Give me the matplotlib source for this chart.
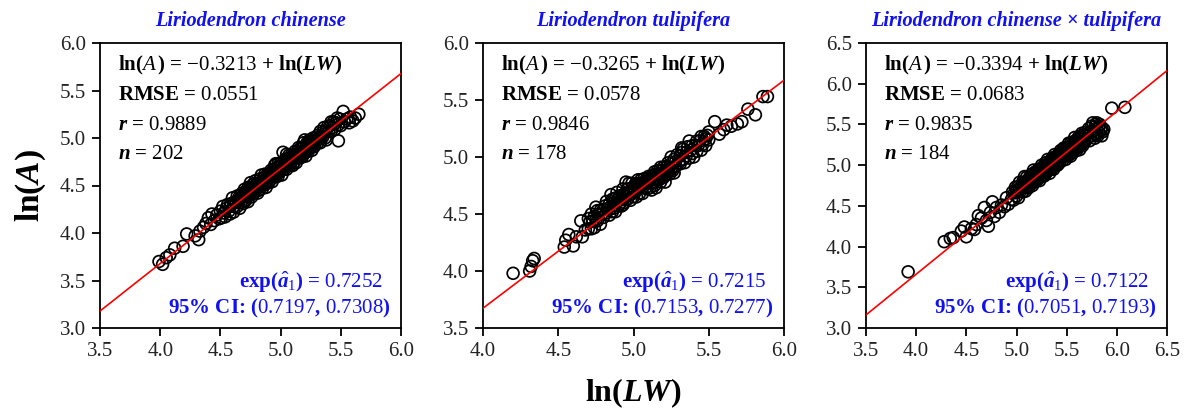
import matplotlib
matplotlib.use("Agg")
import matplotlib.pyplot as plt
import numpy as np

plt.rcParams['font.family'] = ['Liberation Serif', 'DejaVu Serif']
plt.rcParams['mathtext.fontset'] = 'custom'
plt.rcParams['mathtext.rm'] = 'Liberation Serif'
plt.rcParams['mathtext.it'] = 'Liberation Serif:italic'
plt.rcParams['mathtext.bf'] = 'Liberation Serif:bold'
plt.rcParams['mathtext.bfit'] = 'Liberation Serif:italic:bold'

# ---------------- data ----------------
species = ['Liriodendron chinense', 'Liriodendron tulipifera',
           'Liriodendron chinense \u00d7 tulipifera']

intercepts = [-0.3213, -0.3265, -0.3394]
rmse = [0.0551, 0.0578, 0.0683]
corr_r = [0.9889, 0.9846, 0.9835]
exp_a1 = [0.7252, 0.7215, 0.7122]
ci_low = [0.7197, 0.7153, 0.7051]
ci_high = [0.7308, 0.7277, 0.7193]

x_limits = [(3.5, 6.0), (4.0, 6.0), (3.5, 6.5)]
y_limits = [(3.0, 6.0), (3.5, 6.0), (3.0, 6.5)]

# L. chinense: ln(LW), ln(A)
lc_lnlw = [
    3.99, 4.02, 4.05, 4.08, 4.12, 4.19, 4.22, 4.29, 4.32, 4.33, 4.36, 4.38, 4.40, 4.42, 4.43, 4.45, 4.47, 4.49,
    4.50, 4.51, 4.52, 4.53, 4.54, 4.55, 4.56, 4.57, 4.58, 4.58, 4.59, 4.60, 4.61, 4.61, 4.62, 4.63, 4.64, 4.64,
    4.65, 4.66, 4.66, 4.67, 4.67, 4.68, 4.68, 4.69, 4.69, 4.70, 4.70, 4.70,
    4.71, 4.71, 4.72, 4.72, 4.73, 4.73, 4.74, 4.74, 4.75, 4.75, 4.76, 4.76, 4.77, 4.77, 4.78, 4.78, 4.79, 4.79,
    4.80, 4.80, 4.81, 4.81, 4.82, 4.82, 4.83, 4.83, 4.84, 4.84, 4.85, 4.85, 4.86, 4.86, 4.87, 4.87, 4.88, 4.88,
    4.89, 4.89, 4.90, 4.90,
    4.91, 4.91, 4.92, 4.92, 4.93, 4.93, 4.94, 4.94, 4.95, 4.95, 4.96, 4.96, 4.97, 4.97, 4.98, 4.98, 4.99, 4.99,
    5.00, 5.00, 5.01, 5.01, 5.02, 5.03, 5.03, 5.04, 5.04, 5.05, 5.05, 5.06, 5.06, 5.07, 5.07, 5.08, 5.08, 5.09,
    5.09, 5.10, 5.10, 5.02, 4.96, 5.05,
    5.11, 5.11, 5.12, 5.12, 5.13, 5.13, 5.14, 5.14, 5.15, 5.15, 5.16, 5.16, 5.17, 5.17, 5.18, 5.18, 5.19, 5.19,
    5.20, 5.20, 5.21, 5.21, 5.22, 5.22, 5.23, 5.23, 5.24, 5.24, 5.25, 5.25, 5.26, 5.26, 5.27, 5.27, 5.28, 5.28,
    5.29, 5.30,
    5.31, 5.31, 5.32, 5.33, 5.33, 5.34, 5.35, 5.35, 5.36, 5.37, 5.38, 5.38, 5.39, 5.40, 5.41, 5.42, 5.42, 5.43,
    5.44, 5.45, 5.46, 5.47, 5.48, 5.48, 5.49, 5.50,
    5.52, 5.53, 5.55, 5.57, 5.58, 5.60, 5.62, 5.65,
]
lc_lna = [
    3.70, 3.67, 3.74, 3.77, 3.84, 3.86, 3.99, 3.97, 3.93, 4.02, 4.06, 4.10, 4.16, 4.09, 4.20, 4.13, 4.19, 4.15,
    4.23, 4.16, 4.28, 4.21, 4.17, 4.26, 4.30, 4.23, 4.28, 4.20, 4.31, 4.37, 4.28, 4.22, 4.33, 4.32, 4.39, 4.28,
    4.33, 4.39, 4.26, 4.37, 4.32, 4.42, 4.34, 4.40, 4.31, 4.39, 4.46, 4.34,
    4.43, 4.34, 4.42, 4.38, 4.48, 4.33, 4.43, 4.47, 4.40, 4.53, 4.47, 4.38, 4.44, 4.51, 4.48, 4.42, 4.55, 4.45,
    4.48, 4.52, 4.42, 4.52, 4.51, 4.45, 4.57, 4.50, 4.61, 4.49, 4.55, 4.47, 4.58, 4.54, 4.51, 4.62, 4.57, 4.48,
    4.62, 4.55, 4.61, 4.53,
    4.61, 4.55, 4.66, 4.59, 4.64, 4.54, 4.67, 4.62, 4.60, 4.71, 4.65, 4.59, 4.69, 4.63, 4.73, 4.60, 4.69, 4.64,
    4.73, 4.67, 4.72, 4.61, 4.85, 4.72, 4.67, 4.78, 4.70, 4.77, 4.67, 4.76, 4.71, 4.82, 4.75, 4.71, 4.79, 4.82,
    4.75, 4.79, 4.71, 4.69, 4.73, 4.83,
    4.82, 4.74, 4.86, 4.79, 4.83, 4.74, 4.86, 4.82, 4.80, 4.90, 4.85, 4.79, 4.90, 4.83, 4.89, 4.80, 4.95, 4.86,
    4.98, 4.84, 4.91, 4.81, 4.95, 4.88, 4.94, 4.86, 4.98, 4.92, 4.90, 4.97, 4.96, 4.87, 5.00, 4.93, 4.97, 4.91,
    5.00, 4.97,
    5.03, 4.95, 5.01, 5.07, 4.95, 5.02, 5.06, 5.01, 5.11, 5.00, 5.08, 4.98, 5.12, 5.07, 5.13, 5.07, 5.17, 5.11,
    5.17, 5.09, 5.16, 5.21, 4.97, 5.14, 5.20, 5.13,
    5.28, 5.17, 5.20, 5.16, 5.22, 5.18, 5.21, 5.25,
]

# L. tulipifera
lt_lnlw = [
    4.20, 4.31, 4.32, 4.33, 4.34, 4.54, 4.55, 4.57, 4.60, 4.62, 4.65, 4.66, 4.68,
    4.70, 4.70, 4.71, 4.72, 4.72, 4.73, 4.74, 4.74, 4.75, 4.76, 4.76, 4.77, 4.78, 4.78, 4.79, 4.80, 4.80, 4.81,
    4.82, 4.82, 4.83, 4.84, 4.84, 4.85, 4.86, 4.86, 4.87, 4.87, 4.88, 4.88, 4.89, 4.89, 4.90, 4.90, 4.75, 4.85,
    4.91, 4.91, 4.92, 4.92, 4.93, 4.93, 4.94, 4.94, 4.95, 4.95, 4.96, 4.96, 4.97, 4.97, 4.98, 4.98, 4.99, 4.99,
    5.00, 5.00, 5.01, 5.01, 5.02, 5.02, 5.03, 5.03, 5.04, 5.04, 5.05, 5.05, 5.06, 5.06, 5.07, 5.07, 5.08, 5.08,
    5.09, 5.09, 5.10, 5.10,
    5.11, 5.11, 5.12, 5.12, 5.13, 5.13, 5.14, 5.14, 5.15, 5.15, 5.16, 5.16, 5.17, 5.17, 5.18, 5.18, 5.19, 5.19,
    5.20, 5.20, 5.21, 5.21, 5.22, 5.22, 5.23, 5.23, 5.24, 5.24, 5.25, 5.25, 5.26, 5.26, 5.27, 5.27, 5.28, 5.28,
    5.29, 5.30,
    5.31, 5.31, 5.32, 5.33, 5.33, 5.34, 5.35, 5.35, 5.36, 5.37, 5.37, 5.38, 5.39, 5.39, 5.40, 5.41, 5.42, 5.42,
    5.43, 5.44, 5.45, 5.45, 5.46, 5.47, 5.48, 5.48, 5.49, 5.50, 5.50, 5.32,
    5.54, 5.57, 5.60, 5.62, 5.65, 5.69, 5.72, 5.76, 5.81, 5.86, 5.89,
    4.93, 4.98, 5.04, 5.12, 5.18, 5.22, 5.26, 5.14, 5.06, 4.96,
]
lt_lna = [
    3.98, 4.00, 4.04, 4.09, 4.11, 4.21, 4.27, 4.32, 4.22, 4.30, 4.44, 4.30, 4.36,
    4.46, 4.37, 4.43, 4.50, 4.37, 4.44, 4.48, 4.38, 4.45, 4.53, 4.44, 4.50, 4.53, 4.41, 4.50, 4.54, 4.47, 4.57,
    4.51, 4.61, 4.55, 4.49, 4.59, 4.55, 4.63, 4.52, 4.60, 4.55, 4.64, 4.52, 4.60, 4.69, 4.57, 4.64, 4.56, 4.67,
    4.66, 4.59, 4.64, 4.57, 4.72, 4.63, 4.67, 4.60, 4.78, 4.66, 4.72, 4.63, 4.69, 4.77, 4.67, 4.62, 4.73, 4.77,
    4.71, 4.65, 4.76, 4.69, 4.74, 4.65, 4.80, 4.72, 4.77, 4.68, 4.75, 4.80, 4.73, 4.68, 4.78, 4.81, 4.73, 4.78,
    4.81, 4.72, 4.78, 4.83,
    4.80, 4.73, 4.78, 4.71, 4.84, 4.77, 4.81, 4.75, 4.85, 4.73, 4.88, 4.81, 4.80, 4.85, 4.91, 4.78, 4.83, 4.88,
    4.91, 4.82, 4.87, 4.78, 4.92, 4.85, 4.95, 4.88, 4.91, 4.85, 5.00, 4.89, 4.95, 4.88, 4.98, 4.86, 4.96, 4.92,
    5.02, 4.95,
    5.01, 4.94, 5.04, 4.98, 5.07, 4.95, 5.04, 5.01, 5.09, 4.99, 5.14, 5.06, 5.03, 5.10, 5.00, 5.10, 5.14, 5.05,
    5.10, 5.14, 5.06, 5.18, 5.11, 5.18, 5.16, 5.10, 5.19, 5.15, 5.22, 5.08,
    5.31, 5.20, 5.24, 5.28, 5.27, 5.29, 5.31, 5.42, 5.37, 5.53, 5.53,
    4.58, 4.70, 4.74, 4.83, 4.84, 4.89, 4.91, 4.87, 4.76, 4.68,
]

# L. chinense x tulipifera
lh_lnlw = [
    3.92, 4.28, 4.34, 4.37, 4.45, 4.48, 4.50, 4.55, 4.58, 4.60, 4.62, 4.65, 4.68, 4.70, 4.72, 4.74, 4.76, 4.78,
    4.80, 4.83, 4.85, 4.88, 4.90, 4.92,
    4.95, 4.96, 4.97, 4.98, 4.99, 5.00, 5.00, 5.01, 5.02, 5.03, 5.03, 5.04, 5.05, 5.06, 5.06, 5.07, 5.08, 5.09,
    5.09, 5.10, 5.10, 5.11, 5.12, 5.12, 5.13, 5.14, 5.14, 5.15, 5.15, 5.16, 5.16, 5.17, 5.17, 5.18, 5.18, 5.19,
    5.19, 5.20, 5.20, 5.08,
    5.21, 5.21, 5.22, 5.22, 5.23, 5.23, 5.24, 5.24, 5.25, 5.25, 5.26, 5.26, 5.27, 5.27, 5.28, 5.28, 5.29, 5.29,
    5.30, 5.30, 5.31, 5.31, 5.32, 5.32, 5.33, 5.33, 5.34, 5.34, 5.35, 5.35, 5.36, 5.36, 5.37, 5.37, 5.38, 5.38,
    5.39, 5.39, 5.40, 5.40, 5.41, 5.41, 5.42, 5.42, 5.43, 5.43, 5.44, 5.45,
    5.46, 5.46, 5.47, 5.47, 5.48, 5.48, 5.49, 5.49, 5.50, 5.50, 5.51, 5.51, 5.52, 5.52, 5.53, 5.53, 5.54, 5.54,
    5.55, 5.55, 5.56, 5.56, 5.57, 5.57, 5.58, 5.58, 5.59, 5.59, 5.60, 5.60, 5.61, 5.61, 5.62, 5.62, 5.63, 5.63,
    5.64, 5.64, 5.65, 5.65, 5.66, 5.66, 5.67, 5.67, 5.68, 5.68, 5.69, 5.70,
    5.72, 5.73, 5.74, 5.75, 5.76, 5.76, 5.77, 5.78, 5.78, 5.79, 5.79, 5.80, 5.80, 5.81, 5.82, 5.82, 5.83, 5.84,
    5.85, 5.85, 5.86, 5.87, 5.95, 6.08,
]
lh_lna = [
    3.69, 4.06, 4.10, 4.11, 4.19, 4.24, 4.12, 4.22, 4.21, 4.27, 4.38, 4.35, 4.48, 4.32, 4.25, 4.42, 4.55, 4.37,
    4.48, 4.42, 4.51, 4.49, 4.60, 4.52,
    4.58, 4.67, 4.57, 4.66, 4.73, 4.62, 4.69, 4.73, 4.60, 4.70, 4.79, 4.68, 4.75, 4.67, 4.79, 4.73, 4.79, 4.68,
    4.77, 4.85, 4.73, 4.81, 4.72, 4.79, 4.85, 4.76, 4.83, 4.89, 4.79, 4.87, 4.75, 4.85, 4.94, 4.79, 4.88, 4.85,
    4.92, 4.83, 4.91, 4.86,
    4.90, 4.82, 4.95, 4.87, 4.91, 4.81, 4.95, 4.90, 4.87, 5.00, 4.95, 4.86, 4.99, 4.91, 4.95, 4.87, 5.03, 4.92,
    5.00, 4.91, 4.99, 5.07, 4.94, 5.03, 4.90, 5.00, 5.06, 4.97, 5.04, 4.95, 5.09, 5.01, 5.07, 4.95, 5.06, 5.13,
    5.00, 5.08, 5.11, 5.04, 5.00, 5.11, 5.14, 5.05, 5.10, 5.03, 5.18, 5.09,
    5.16, 5.06, 5.14, 5.21, 5.11, 5.19, 5.07, 5.17, 5.22, 5.12, 5.20, 5.16, 5.27, 5.12, 5.21, 5.16, 5.27, 5.11,
    5.25, 5.19, 5.23, 5.15, 5.29, 5.19, 5.27, 5.34, 5.20, 5.27, 5.31, 5.18, 5.28, 5.24, 5.35, 5.22, 5.32, 5.19,
    5.35, 5.28, 5.39, 5.26, 5.34, 5.24, 5.37, 5.30, 5.40, 5.28, 5.36, 5.32,
    5.45, 5.30, 5.40, 5.48, 5.36, 5.52, 5.42, 5.33, 5.47, 5.50, 5.38, 5.44, 5.52, 5.36, 5.47, 5.40, 5.50, 5.43,
    5.46, 5.36, 5.41, 5.44, 5.70, 5.71,
]

lnlw_sets = [lc_lnlw, lt_lnlw, lh_lnlw]
lna_sets = [lc_lna, lt_lna, lh_lna]

# ---------------- figure ----------------
W, H = 1186, 412
fig = plt.figure(figsize=(W / 100, H / 100), dpi=100)

ax_w, ax_h = 301 / W, 285 / H
ax_bottom = (H - 328) / H
lefts = [100 / W, 483 / W, 866 / W]

TXT = 15
BLUE = '#1010F0'


def rm(v):
    """Upright (non-bold) number inside an otherwise bold line."""
    return r'$\mathrm{' + v + '}$'


for i in range(3):
    ax = fig.add_axes([lefts[i], ax_bottom, ax_w, ax_h])
    xs = np.array(lnlw_sets[i])
    ys = np.array(lna_sets[i])
    a = intercepts[i]

    ax.scatter(xs, ys, s=72, facecolors='none', edgecolors='black',
               linewidths=1.25, zorder=2)
    x0, x1 = x_limits[i]
    xl = np.array([x0, x1])
    ax.plot(xl, a + xl, color='red', lw=1.2, zorder=3)

    ax.set_xlim(x0, x1)
    ax.set_ylim(*y_limits[i])
    ax.set_xticks(np.arange(x0, x1 + 0.01, 0.5))
    ax.set_yticks(np.arange(y_limits[i][0], y_limits[i][1] + 0.01, 0.5))
    ax.xaxis.set_major_formatter(matplotlib.ticker.FormatStrFormatter('%.1f'))
    ax.yaxis.set_major_formatter(matplotlib.ticker.FormatStrFormatter('%.1f'))
    ax.tick_params(direction='out', length=6, width=1.3, labelsize=15,
                   labelcolor='#222222', pad=4)
    for sp in ax.spines.values():
        sp.set_linewidth(1.3)

    ax.text(0.5, 1.077, species[i], transform=ax.transAxes, ha='center',
            va='center', fontsize=14.6, fontweight='bold', fontstyle='italic',
            color=BLUE)

    lines = [
        'ln(' + r'$\mathit{A}\,$' + ') = ' + rm(f'{a:.4f}') + ' + ln('
        + r'$\mathbfit{LW}$' + ')',
        'RMSE = ' + rm(f'{rmse[i]:.4f}'),
        r'$\mathbfit{r}$' + ' = ' + rm(f'{corr_r[i]:.4f}'),
        r'$\mathbfit{n}$' + ' = ' + rm(f'{len(xs)}'),
    ]
    for k, s in enumerate(lines):
        ax.text(0.06, 0.92 - 0.103 * k, s, transform=ax.transAxes,
                ha='left', va='center', fontsize=TXT, fontweight='bold',
                color='black')

    ax.text(0.94, 0.158,
            'exp(' + r'$\hat{\mathbfit{a}}_{\mathrm{1}}$' + ') = '
            + rm(f'{exp_a1[i]:.4f}'),
            transform=ax.transAxes, ha='right', va='center', fontsize=TXT,
            fontweight='bold', color=BLUE)
    ax.text(0.965, 0.07,
            '95% CI: (' + rm(f'{ci_low[i]:.4f}') + ', '
            + rm(f'{ci_high[i]:.4f}') + ')',
            transform=ax.transAxes, ha='right', va='center', fontsize=TXT,
            fontweight='bold', color=BLUE)

fig.text(0.026, (H - 185.5) / H, 'ln(' + r'$\mathbfit{A}$' + ')',
         rotation=90, ha='center', va='center', fontsize=24, fontweight='bold')
fig.text(633 / W, (H - 393) / H, 'ln(' + r'$\mathbfit{LW}$' + ')',
         ha='center', va='center', fontsize=23, fontweight='bold')

fig.savefig('out.png', dpi=100)
